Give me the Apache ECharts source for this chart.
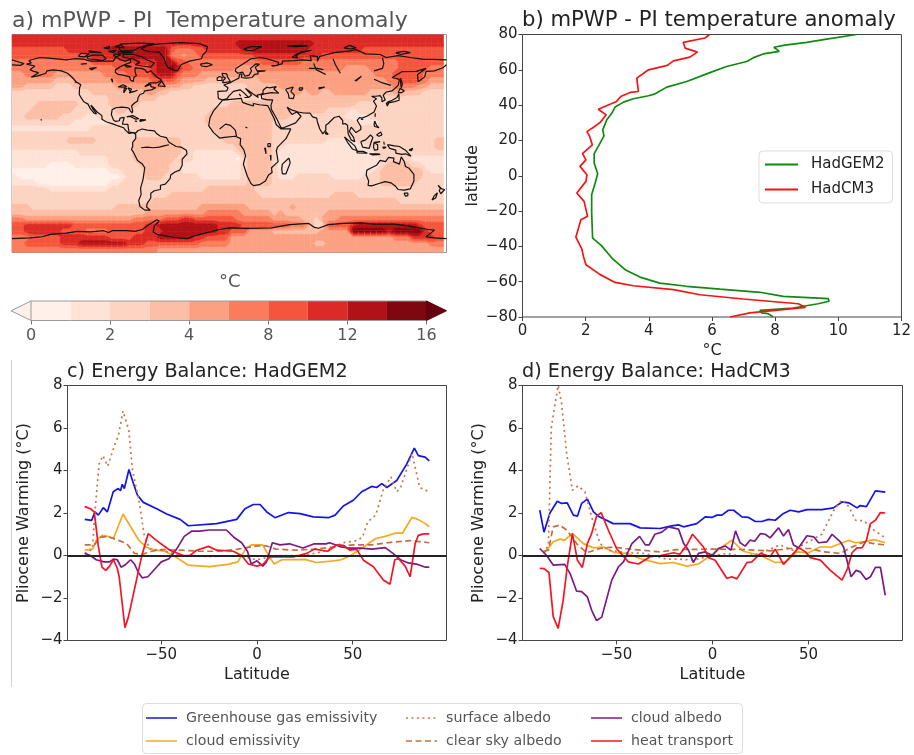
<!DOCTYPE html>
<html><head><meta charset="utf-8">
<style>html,body{margin:0;padding:0;background:#fff}#c{width:914px;height:755px}</style>
<script src="https://cdn.jsdelivr.net/npm/echarts@6/dist/echarts.min.js"></script>
</head><body><div id="c"></div>
<script>
// ---------- panel a: temperature anomaly level per 5x5 degree cell (north to south, west to east)
const mapLevels = [
"777777 777777 777777 777777 777777 777777 777777 777777 777777 777777 777777 777777",
"777777 777777 777777 777777 777777 777777 788888 888888 887777 777777 777777 777777",
"666666 666777 777788 888888 886555 667777 778888 888888 877777 777766 666666 666666",
"666666 666666 677777 888888 885545 566666 666677 777777 777666 666666 666666 666666",
"555555 555555 566666 667777 888665 555555 555556 666666 555555 555555 555566 666666",
"555555 555555 555556 666667 889866 555555 544445 555555 555555 544445 555566 666555",
"445555 544444 444555 566667 888655 544444 444444 444444 444444 444444 555666 665555",
"444444 433344 444445 555556 666544 443333 333334 444444 444444 444444 445566 665444",
"443333 322233 333334 444445 544433 222222 222333 334444 444444 444444 444555 544333",
"222222 222222 233333 333344 332222 222222 222333 333344 344334 444443 333443 332222",
"222222 222222 222233 333333 222222 222222 222222 333333 333333 333333 222222 222222",
"222233 333332 222233 333222 222222 222222 333333 333333 333333 333222 222222 222222",
"222333 333322 222223 322222 222222 222333 333333 333333 333322 221222 222222 222222",
"223333 332222 112222 222222 222222 223333 333333 333322 222222 211112 222222 222222",
"222222 222211 111122 222222 222222 223333 333333 322222 222222 222111 122222 222222",
"111111 111111 122222 222222 222222 222333 333333 322222 222222 222222 222222 222222",
"222222 222222 222222 222222 222222 222233 333333 322222 222222 222222 222222 222222",
"222222 222333 332222 223333 333322 222223 333333 322222 222211 111222 222222 222233",
"222222 222222 222222 223333 333322 222222 233333 322111 111111 111112 222222 222233",
"111111 111112 222222 223333 333322 111111 123333 321111 111111 111111 222222 222222",
"111111 111111 111122 223333 333222 111111 102333 321111 111111 111111 122222 111111",
"111111 000011 111122 222333 332211 111111 112333 321111 111111 111111 123333 221111",
"000000 000000 000011 222233 332211 111111 112333 321111 111111 111111 233333 332111",
"100000 000000 000000 122233 322222 211111 112333 321112 222221 111122 233333 332222",
"111100 000000 000011 222222 222222 222222 222333 322222 222222 222222 233333 322222",
"222222 111111 111122 222222 222222 223333 333322 222222 222222 222222 222222 222222",
"222222 222222 222222 222222 223333 333333 333332 222222 222223 333222 222222 222222",
"222222 222222 222222 222223 333333 333333 333333 333333 333333 333333 333322 222222",
"333222 222222 222223 333333 333333 344444 444333 333343 333333 333333 333333 333333",
"333333 333333 333333 333344 444444 445555 554444 434333 333344 444444 444444 444444",
"554444 444444 444444 445555 566677 666666 655555 544444 332444 555555 555555 555555",
"667777 777766 666666 666677 888888 888877 776666 666655 532266 667888 888888 876666",
"667777 776666 555566 666677 788888 888877 666444 433333 333444 449999 998999 997666",
"555666 667777 777766 667777 888888 776666 444444 444444 444444 444444 444555 777766",
"556666 667778 888888 877766 666666 655555 444444 444444 443344 444444 444444 444555",
"555555 555555 555555 555555 444444 444444 444444 444444 444444 444444 444444 444444"
];
// coastlines, lakes and rivers as [lon, lat] outlines
const coastlines = [
[[-168,65.5],[-164,66.5],[-166,68.5],[-157,71],[-150,70.5],[-141,69.6],[-135,69],[-128,70],[-120,69.5],[-115,68],[-108,68],[-100,68],[-96,68],[-94,71.5],[-90,69],[-86,68],[-82,69.5],[-81.5,67],[-87,65],[-90,63.5],[-94,61],[-94.5,58.8],[-92,57],[-88,56.5],[-82.5,55],[-82,52.5],[-79.5,51.3],[-79,54.5],[-77,56],[-78,59],[-78,62.5],[-73,62],[-70,61],[-68,58.5],[-65,60],[-62,57],[-60,55],[-56,52.5],[-60,50],[-66,50],[-70,47],[-65,49],[-65,47],[-61,46],[-64,44.5],[-66,44],[-67,45],[-70,43.5],[-71,41.5],[-74,40.5],[-75.5,38],[-76,35],[-79,33],[-81,31],[-80,27],[-80.5,25.2],[-82,27],[-83,29],[-85,29.7],[-89,30],[-90,29],[-94,29.5],[-97,28],[-97.7,24],[-96,19.5],[-94,18.2],[-91,18.8],[-90.5,21],[-87,21.5],[-88,18],[-88.5,16],[-84,15.8],[-83.5,12],[-83,9.5],[-80,9],[-77.5,8.7],[-75.5,10.7],[-72,12],[-68,11],[-62,10.5],[-60,8],[-57,6],[-52,4.8],[-50,1],[-50,-0.5],[-44,-2.5],[-40,-3],[-35.5,-5.5],[-35,-8.5],[-39,-13],[-39,-18],[-41,-22],[-45,-23.5],[-48.5,-26],[-49,-29],[-53,-33.5],[-57,-34.5],[-57,-38],[-62,-39],[-65,-41],[-65,-45],[-68,-49.5],[-68.5,-52.5],[-65.5,-55],[-70,-55],[-74,-52],[-75,-47],[-73,-42],[-73.5,-37],[-71.5,-30],[-70,-20],[-72,-17],[-76,-14],[-79.5,-7],[-81,-5],[-80,-2.5],[-80,1],[-77.5,4],[-77.5,7.5],[-79.5,9],[-80,7.5],[-83,8.3],[-86,11],[-87.5,13],[-92,14.5],[-96,16],[-102,18],[-105.5,20],[-105.5,23],[-109.5,26],[-112.5,29.5],[-114.7,31.7],[-113,28.5],[-110,24.5],[-109.5,23],[-112,25],[-115,28.5],[-117,32.5],[-120.5,34.5],[-122.5,37.5],[-124.3,40.5],[-124,46],[-123,48.5],[-127,51],[-130,54.5],[-134,58],[-139,60],[-146,60.8],[-151,60],[-152,58],[-158,56],[-164,54.7],[-158,58.5],[-162,59.5],[-165,61],[-161,64],[-168,65.5]],
[[-73,78.2],[-68,76],[-58,75.5],[-54,70],[-53,67],[-51,63],[-46,60.5],[-43,60],[-40,65],[-33,68],[-23,70],[-22,73],[-19,76],[-18,80],[-25,82.5],[-40,83.3],[-60,82],[-68,80.5],[-73,78.2]],
[[-80,73.7],[-72,71.5],[-68,69],[-62,66.5],[-65,63],[-72,64],[-78,65],[-74,67],[-80,70],[-88,71],[-88,73.5],[-80,73.7]],
[[-90,76.5],[-80,76.5],[-76,78.5],[-68,81.5],[-62,82.5],[-75,83],[-90,82],[-92,80],[-90,76.5]],
[[-117,70],[-105,68.7],[-102,70],[-105,73],[-113,73],[-118,71.5],[-117,70]],
[[-125,72],[-120,71.5],[-116,74],[-123,74.5],[-125,72]],
[[-92,76],[-80,75],[-80,74.5],[-92,74.5],[-92,76]],
[[-95,74],[-90,73],[-93,71.8],[-96,72.5],[-95,74]],
[[-116,75.5],[-106,75],[-106,76.5],[-116,76.5],[-116,75.5]],
[[-95,80],[-87,79],[-90,81.5],[-95,80]],
[[-100,76],[-96,75],[-94,77],[-100,76]],
[[-104,79],[-100,78],[-99,80],[-104,79]],
[[-87,65],[-81,63.5],[-85,63],[-87,65]],
[[-59,47.7],[-56,51.5],[-53,47],[-59,47.7]],
[[-128,50.8],[-125,50],[-123.5,48.5],[-125.5,48.8],[-128,50.8]],
[[-92,46.7],[-88,48.5],[-85,47],[-88,46.5],[-92,46.7]],
[[-87.5,41.8],[-85,45.5],[-87,45.5],[-87.5,41.8]],
[[-84,46],[-81,45],[-82,43],[-83.5,44],[-84,46]],
[[-83,41.7],[-79,42.8],[-79,43.6],[-76,44],[-78,43.3],[-83,42]],
[[-98,53.5],[-96.5,50.5],[-97,53],[-98,53.5]],
[[-123,65.5],[-118,66],[-119,65],[-123,65.5]],
[[-116,62],[-110,62.7],[-114,61],[-116,62]],
[[-85,22],[-80,23],[-75,20.5],[-77.5,20],[-82,22.3],[-85,22]],
[[-74,19.7],[-69,19.5],[-68.5,18.5],[-74,18.3],[-74,19.7]],
[[-78.3,18.4],[-76.3,18.2],[-77.5,17.8],[-78.3,18.4]],
[[-156,20],[-155,19.7],[-155.6,19],[-156,20]],
[[-24,65.5],[-18,66.5],[-14,65],[-19,63.4],[-23,64],[-24,65.5]],
[[12,78],[18,80],[27,80],[20,77],[15,76.8],[12,78]],
[[48,80.5],[60,81],[65,80.5],[55,80],[48,80.5]],
[[52,71],[56,74],[68,77],[60,75.7],[55,72],[57,70.7],[52,71]],
[[95,79],[100,81],[105,79],[100,78],[95,79]],
[[138,75],[145,76],[150,75],[142,73.5],[138,75]],
[[-5.5,50],[1,51.2],[1.5,52.8],[-1.5,55],[-2,57.5],[-3.5,58.5],[-6,58],[-5,55],[-3,54],[-5,52],[-5.5,50]],
[[-10,52],[-6,52.2],[-6,54.5],[-8,55.3],[-10,54],[-10,52]],
[[-9,37],[-9.5,43],[-2,43.5],[-1,46],[-4.5,48.3],[1.5,50.5],[4,52],[8,54],[8.5,57],[10.5,57.5],[10,54.5],[14,54],[19,54.5],[21,57],[24,57.5],[23.5,59.3],[30,60],[23,60],[21.5,63],[25,65.5],[22,65.7],[17.5,62],[18.5,60],[16.5,56.5],[13,55.5],[11,59],[7,58],[5,60],[5.5,62],[12,66],[18,70],[26,71],[31,70],[41,67],[40,64.5],[35,64.3],[37,63.8],[44,66],[44,68],[54,68.5],[60,69],[68,68.5],[67,72.5],[73,72],[73,68],[75,72],[81,73.5],[87,75],[100,76.5],[105,77.5],[113,74],[125,73.5],[130,71],[140,72.5],[150,71],[160,69.7],[170,69.5],[180,69]],
[[-180,69],[-175,67.5],[-170,66],[-173,64.5],[-180,65]],
[[180,65],[177,62.5],[170,60],[163,59.5],[162,55],[156.5,51],[156,57],[163,62],[155,59.5],[143,59.3],[135,54.5],[141,53],[140,48],[135,43.5],[130,42.5],[127.5,39.8],[129.3,36],[126.5,34.5],[126.5,37.5],[125,39.5],[121.5,39],[118,39],[122,37],[119.5,35],[122,31],[120,26],[114,22.5],[110,21],[108,21.5],[106,19],[109,14],[109,11.5],[105,9],[105,10],[101,13.5],[99.5,10],[103,5],[104,1.5],[101,3],[98.5,8],[98,15],[96,16.5],[94,16],[94,19],[91,22.5],[87,21.5],[82,16.5],[80,15],[80,11],[77.5,8],[75,12],[73,18],[72.5,21],[69,22],[67,25],[61.5,25.2],[57,26],[56,27],[51,28],[48,30],[50,26.5],[52,24],[56,26],[59.5,22.5],[55,17],[45,13],[43,13],[39,21],[35,28],[34.5,29.5],[34.5,31.5],[36,36],[32,36],[27,37],[26.5,40],[29,41],[35,42],[41,41.5],[37,45],[39,47],[33,46],[31,46.5],[28,44],[28,41.5],[26,40.5],[23,40],[24,38],[23,36.5],[19.5,41],[13.5,45.5],[12.5,44],[18.5,40],[16,38],[12,42],[9,44.3],[3.5,43],[0,39.5],[-2,36.8],[-5.5,36],[-9,37]],
[[-5.5,35.8],[10,37.3],[11,34],[15,32.5],[20,31],[20,33],[25,32],[32,31.2],[32.5,30],[35.5,24],[37,21],[39,15.5],[43,12],[51,12],[47,4],[40,-3],[39,-6],[40.5,-15],[35,-20],[35.5,-24],[32.5,-26],[30,-31],[25,-34],[20,-34.8],[18,-33],[15,-27],[11.7,-17],[13.5,-10],[12,-5],[9,-1],[9.5,4],[5,6],[-4,5],[-8,4.5],[-13,9],[-17,14.5],[-16,21],[-13,27],[-9.5,31],[-5.5,35.8]],
[[12.5,38],[15.5,38],[15,36.7],[12.5,38]],
[[8.3,41],[9.7,41],[9.5,39],[8.5,39],[8.3,41]],
[[47,45],[53,46.5],[51,43],[54,40],[53,37],[49.5,37.5],[49,41],[47,44],[47,45]],
[[58,46],[61,46],[60,44],[58,44],[58,46]],
[[104,51.7],[109.5,55.5],[110,55],[105,51.5]],
[[74,46],[79,46.5],[74,45]],
[[32,0],[34,0],[34,-2.5],[32,-2.5],[32,0]],
[[29.3,-3.5],[30.5,-8.5],[31,-8],[30,-3.5]],
[[34,-9.5],[34.5,-14],[35,-14],[34.5,-9.5]],
[[13.5,13.5],[14.5,13.5],[15,12.8],[13.5,13.5]],
[[-73,-3.5],[-68,-3],[-63,-3.5],[-58,-3],[-54,-2],[-50,-1]],
[[-8,12],[-3,16],[1,15],[5,11],[6,6]],
[[66,62],[73,62],[78,61]],
[[70,66],[72,61],[80,57]],
[[86,70],[88,65],[92,58]],
[[120,60],[127,62],[128,66],[127,71]],
[[120,53],[127,50],[134,48]],
[[49.5,-12],[50.5,-16],[47,-25],[44,-25],[43.5,-21],[44,-17],[49.5,-12]],
[[80,9.7],[82,7.5],[80.5,6],[79.8,8],[80,9.7]],
[[95.5,5.5],[104,-2],[106,-6],[102,-4.5],[98,1],[95.5,5.5]],
[[105.5,-6.5],[111,-6.5],[114.5,-8],[106,-7.7],[105.5,-6.5]],
[[109,1.5],[113,3],[117,7],[119,5],[117.5,1],[116,-4],[110.5,-3],[109,1.5]],
[[120,1],[125,1.5],[120.5,0.5],[123,-1],[121.5,-2],[123,-5],[120.5,-5.5],[119.5,-3],[120,1]],
[[116,-8.5],[119,-8.5],[123,-8.5],[125,-9],[124,-10],[119,-9.5],[116,-8.5]],
[[127,-3],[130,-3],[128,-4],[127,-3]],
[[128,1.5],[128.5,-1],[127.5,0],[128,1.5]],
[[131,-1],[137,-2],[141,-2.5],[146,-5.5],[150.5,-10.5],[146,-8.5],[143,-9],[138,-8],[138,-5.5],[133,-4],[131,-1]],
[[149,-5.5],[152,-4],[151,-6],[149,-5.5]],
[[120.5,18.5],[122,18.5],[122,15],[124,13],[120.5,14],[120,16],[120.5,18.5]],
[[122,7],[125.5,9.5],[126.5,7],[124,6],[122,7]],
[[121,25],[122,24.5],[120.8,22],[120,23],[121,25]],
[[109,20],[111,19.8],[109.5,18.3],[109,20]],
[[130.8,34],[135,35.7],[139,38],[140.5,41],[142,39.5],[140.8,35.7],[137,34.6],[132,33.5],[130.8,34]],
[[130,33.5],[132,33],[131,31],[130,32],[130,33.5]],
[[140,42],[141.5,45.5],[145,43.5],[143,42],[140,42]],
[[142,54],[143.5,49],[142.5,46],[142,50],[142,54]],
[[114,-22],[113.5,-26],[115.5,-31],[115,-34.5],[118,-35],[124,-33],[129,-31.5],[134,-32.5],[137.5,-35],[140,-38],[145,-38.5],[150,-37.5],[153,-31],[153,-25.5],[149,-20.5],[146,-19],[145,-15],[142.5,-11],[141,-17],[136,-15],[136.5,-12],[132,-11.5],[129.5,-15],[125,-14],[122,-18],[117,-20.5],[114,-22]],
[[144.8,-41],[148,-41],[148,-43],[146,-43.5],[144.8,-41]],
[[173,-34.5],[176,-37.5],[178.5,-38],[175.3,-41.5],[174,-39],[175,-37],[173,-34.5]],
[[172.5,-40.7],[174,-42],[171,-45],[168,-46.7],[166.5,-45.8],[170,-43],[172.5,-40.7]],
[[-180,-78.5],[-165,-78],[-155,-77],[-148,-75],[-135,-74],[-126,-72.5],[-115,-73],[-104,-72],[-100,-73.5],[-97,-72],[-85,-72],[-78,-72.5],[-72,-71],[-68,-68],[-60,-63],[-58,-64],[-62,-68],[-63,-73],[-60,-75],[-49,-77],[-35,-78.5],[-28,-76],[-16,-73],[-8,-71],[0,-69.7],[15,-70],[35,-69.7],[50,-67],[66,-66],[70,-69],[74,-70],[82,-67],[95,-66],[109,-65.5],[120,-66.5],[137,-66.5],[150,-68.5],[165,-71],[170,-71.5],[167,-74],[163,-77],[170,-78],[180,-78.5]]
];
const levelColors = ["#fff0e9","#fee3d6","#fdd4c2","#fcbea5","#fca082","#fb7c5c","#f5553c","#dc2a26","#b01217","#7f0710"];
const overColor = "#67000d";
const cbarTicks = [0,2,4,8,12,16];

// ---------- panel b: [temperature anomaly, latitude]
const zonalHadGEM2 = [[10.58,80],[9.63,77.4],[9.0,75.5],[8.31,74],[7.96,72.8],[8.13,70.4],[7.62,69],[7.36,67.2],[7.1,64.7],[6.46,61.9],[5.83,57.7],[5.2,53.4],[4.57,50.2],[4.2,46.4],[3.99,45.3],[3.51,43.6],[3.2,41.7],[2.93,38.9],[2.83,35.5],[2.67,31.7],[2.54,26],[2.58,22.6],[2.4,16.6],[2.27,12.5],[2.27,7.2],[2.38,1.1],[2.3,-4.2],[2.19,-10.8],[2.19,-21],[2.22,-35.3],[2.5,-39.6],[2.83,-46.6],[3.25,-53.2],[3.72,-57.4],[4.35,-60.8],[5.2,-62.6],[6.25,-64.2],[7.52,-66],[8.26,-68.3],[9.68,-69.6],[9.71,-71.1],[9.36,-72.5],[9.36,-73.6],[8.57,-74.9],[7.52,-76.2],[7.57,-77.7],[7.78,-78.1],[7.94,-80]];
const zonalHadCM3 = [[5.92,80],[5.78,78],[5.09,75.5],[5.15,72.3],[5.54,70],[5.3,67.2],[4.78,65.1],[4.59,62.5],[3.99,60],[3.62,55.3],[3.67,47.7],[3.41,47.2],[3.11,44.9],[2.98,42.1],[2.4,37.7],[2.65,34.5],[2.46,30.2],[2.25,27.5],[2.04,25],[2.12,22.6],[2.21,17.5],[1.9,12.5],[2.01,9],[1.82,5.3],[2.04,0.6],[2.01,-3.2],[1.72,-9.8],[1.95,-14.5],[2.06,-23],[1.85,-24.9],[1.69,-34.7],[1.88,-41.5],[1.93,-45.7],[2.01,-50.4],[2.46,-56],[2.93,-60.4],[3.51,-62.3],[4.78,-64.5],[5.62,-67.4],[6.99,-69.8],[8.73,-72.5],[8.96,-74.5],[7.2,-77.7],[6.57,-80]];

// ---------- panel c (HadGEM2): [latitude, warming]
const cGhg = [[-90,1.7],[-86.4,1.65],[-84.7,2.05],[-82.9,1.9],[-80.3,2.25],[-78.2,2.05],[-75.1,3.0],[-72.5,3.15],[-71.3,3.05],[-70.4,3.35],[-69.3,3.15],[-66.9,4.05],[-64.6,3.4],[-62.5,2.85],[-59.4,2.5],[-52.4,2.2],[-47.2,1.95],[-40.2,1.7],[-35.9,1.4],[-21.1,1.5],[-10.6,1.7],[-6.3,2.2],[-1.9,2.4],[1.6,2.4],[5.1,2.05],[9.4,1.78],[16.4,2.02],[22.5,1.97],[29.4,1.82],[37.3,1.78],[40.8,1.9],[45.1,2.33],[50.3,2.6],[54.7,3.0],[59.9,3.25],[62.5,3.2],[65.2,3.38],[67.8,3.2],[73,3.53],[78.2,4.3],[82.2,5.05],[84.3,4.7],[87.8,4.63],[90,4.45]];
const cCloudEm = [[-90,0.25],[-86,0.3],[-84,0.7],[-81,0.95],[-78,0.9],[-75,0.8],[-70,1.95],[-66,1.35],[-62,0.75],[-58,0.4],[-53,0.25],[-48,0.2],[-42,-0.1],[-36,-0.45],[-25,-0.52],[-15,-0.42],[-10,-0.3],[-6,0.3],[-3,0.5],[3,0.5],[6,0],[9,-0.4],[13,-0.2],[25,-0.18],[31,-0.33],[40,-0.25],[44,-0.2],[49,0],[55,0.35],[62,0.8],[67,0.9],[72,1.05],[76,1.05],[81,1.8],[84,1.7],[88,1.5],[90,1.35]];
const cSurface = [[-90,0.1],[-86,0.3],[-84.7,2.0],[-82.5,4.3],[-80.5,4.7],[-78,4.2],[-74,5.3],[-72.5,5.6],[-70,6.8],[-67,5.9],[-65,4.0],[-61.5,2.5],[-59,1.0],[-56,0.3],[-50,0.25],[-40,0],[-25,-0.05],[-10,0],[0,-0.2],[10,0],[25,0],[35,0.2],[45,0.6],[52,0.7],[55,0.85],[58,1.6],[62,1.9],[66,3.1],[70,3.7],[73,3.0],[75,3.2],[78,4.0],[81,4.8],[85,3.2],[90,3.0]];
const cClear = [[-90,0.5],[-85,0.5],[-82,0.85],[-78,0.9],[-72,0.7],[-68,0.55],[-64,0.1],[-60,0.05],[-55,0.2],[-50,0.28],[-40,0.25],[-30,0.2],[-20,0.2],[-10,0.3],[0,0.45],[5,0.45],[10,0.3],[20,0.25],[30,0.3],[40,0.4],[50,0.5],[60,0.5],[70,0.62],[80,0.7],[85,0.65],[90,0.6]];
const cCloudAlb = [[-90,0.1],[-87,0],[-84,-0.2],[-80,-0.3],[-77,-0.3],[-75,-0.17],[-73,-0.2],[-71,-0.55],[-69,-0.45],[-66,-0.2],[-64,-0.4],[-62,-0.8],[-60,-1.05],[-57,-1.0],[-53,-0.6],[-50,-0.3],[-46,-0.15],[-42,0.3],[-38,0.9],[-34,1.15],[-30,1.15],[-25,1.2],[-16,1.2],[-12,0.85],[-8,0.6],[-5,0.2],[-3,-0.4],[0,-0.25],[3,-0.5],[5,-0.3],[8,0.6],[12,0.5],[17,0.55],[24,0.35],[30,0.55],[36,0.55],[38,0.6],[44,0.4],[48,0.35],[54,0.35],[60,0.3],[67,0.37],[71,0.1],[75,-0.2],[79,-0.35],[84,-0.42],[88,-0.55],[90,-0.55]];
const cHeat = [[-90,2.3],[-87,2.2],[-85,2.05],[-84,2.1],[-83,0.5],[-81,-0.55],[-79,-0.7],[-77,-0.5],[-75,-0.2],[-73,-0.6],[-72,-1.0],[-69,-3.4],[-67.2,-2.9],[-63.8,-1.5],[-60.3,-0.05],[-56.8,1.03],[-52.4,0.7],[-45.5,0.25],[-38.5,0],[-35,0],[-31.5,0.25],[-25.4,0.43],[-21,0.25],[-12.4,0.2],[-8,0],[-4.5,-0.4],[0,-0.5],[3.3,-0.4],[6.8,-0.05],[12,-0.07],[19,-0.07],[26,0.1],[30,0.3],[37,0.2],[41.6,0.5],[45,0.48],[48.6,0.25],[52,0.3],[55.6,-0.22],[60.8,-0.53],[66,-1.15],[69.5,-1.35],[72,-0.2],[74,-0.15],[77.4,-0.5],[80,-1.0],[82.6,0.55],[84.3,0.95],[87,1.02],[90,1.02]];

// ---------- panel d (HadCM3): [latitude, warming]
const dGhg = [[-90,2.13],[-87.8,1.1],[-84.7,2.0],[-80.9,2.55],[-78.6,2.45],[-75.7,2.48],[-72.5,1.9],[-70.4,1.85],[-68.2,2.45],[-65.2,2.65],[-62,2.05],[-59.5,1.85],[-51.7,1.5],[-43,1.5],[-37.7,1.3],[-27.3,1.27],[-22,1.38],[-17.7,1.44],[-15.1,1.35],[-8.2,1.5],[-3.8,1.82],[-0.3,1.79],[2.3,1.9],[4.9,1.9],[8.3,2.13],[11,2.13],[15.3,1.82],[18.8,1.79],[22.3,1.6],[25.7,1.6],[29.2,1.7],[32.7,1.66],[37,1.98],[40.5,2.13],[44.9,2.05],[49.2,2.16],[57,2.16],[63,2.24],[67.5,2.52],[71,2.48],[75.3,2.24],[77,2.35],[80.2,2.3],[84.9,3.04],[90,2.98]];
const dCloudEm = [[-88,0.1],[-85,0.4],[-83,0.65],[-79.5,0.77],[-77,0.72],[-73,1.04],[-67.3,0.56],[-62,0.36],[-57,0.4],[-50.8,0.13],[-44.7,0.1],[-37.7,-0.14],[-27.3,-0.38],[-20.3,-0.33],[-13.4,-0.5],[-7.3,-0.4],[-2,-0.06],[4,0.33],[10,0.72],[16,0.2],[25,0],[32.7,-0.33],[38,-0.3],[44,0.17],[50,0.13],[56,0.4],[62,0.4],[71,0.72],[74.4,0.6],[79,0.64],[84,0.75],[90,0.6]];
const dSurface = [[-88,0.1],[-85.5,0.5],[-84,6.0],[-82,7.15],[-80.4,8.0],[-78.6,7.15],[-76,4.8],[-73,3.07],[-70,3.28],[-66.5,3.0],[-63,1.82],[-58.6,0.56],[-54.3,0.25],[-44.7,0.13],[-36,0.1],[-23.8,-0.17],[-17,-0.17],[-10,-0.22],[-3,-0.06],[7.5,0.1],[16,-0.06],[25,0.1],[35,0.5],[42,0.25],[51,0.7],[57,1.0],[63,2.1],[67.5,2.63],[71,2.3],[74.5,1.66],[79,1.63],[84,1.2],[90,0.83]];
const dClear = [[-88,0.2],[-85.5,0.25],[-83,1.35],[-79.5,1.43],[-76,1.2],[-70.8,0.56],[-65.6,0.13],[-58.6,0.33],[-51.6,0.4],[-41,0.28],[-27,0.17],[-18.6,0.28],[0.5,0.3],[16,0.28],[30,0.22],[40.5,0.33],[51,0.33],[58,0.17],[66.6,0.1],[72.7,0.4],[79,0.64],[84,0.56],[90,0.5]];
const dCloudAlb = [[-90,0.33],[-86.4,0],[-83,-0.45],[-77,-0.42],[-74.2,-0.85],[-70.8,-1.68],[-68.2,-1.7],[-65.2,-1.95],[-63,-2.57],[-60.4,-3.06],[-57.7,-2.9],[-52.5,-1.16],[-49,-0.53],[-46.4,-0.3],[-42,0.56],[-38,0.9],[-35,0.5],[-33,0.5],[-30,1.0],[-26.4,1.1],[-23,1.35],[-17.7,1.24],[-15,0.56],[-12.5,0.25],[-10,-0.33],[-7.3,0.1],[-3.8,0.17],[0,0],[3,0.33],[6.6,0.45],[9.6,0.25],[12,1.16],[14.4,0.6],[17,0.44],[19.6,0.72],[22,0.67],[25,1.03],[27.5,1.0],[30,0.83],[34.4,1.3],[37,0.92],[39.6,1.22],[42.2,0.49],[44.9,0.36],[49.2,0.93],[52.7,0.88],[55.3,0.6],[59.6,0.64],[62.3,1.0],[66.6,0.64],[68.3,0.4],[72.2,-1.0],[74.8,-0.7],[77,-0.77],[80,-1.13],[82.3,-1.0],[84.9,-0.56],[87.5,-0.56],[90,-1.87]];
const dHeat = [[-90,-0.6],[-87.8,-0.62],[-85.2,-0.8],[-83,-2.88],[-80.4,-3.43],[-77.8,-2.1],[-75.7,-0.53],[-73,1.03],[-70.4,-0.22],[-67.8,-0.56],[-65.2,0.56],[-63,1.03],[-60.4,1.85],[-58,2.02],[-54.3,1.2],[-50,0.33],[-43.8,-0.3],[-38.6,-0.4],[-32.5,-0.06],[-27,0],[-20.3,0.13],[-17,0.06],[-13.4,0.49],[-10.4,1.0],[-4.7,0.4],[-2,-0.1],[1.4,-0.22],[7.5,-1.08],[10,-1.0],[12.7,-1.1],[18,-0.33],[20.5,-0.3],[25,0.1],[28.4,0],[30,-0.06],[32.7,0.3],[37,-0.42],[42.2,0.1],[45,0.37],[48.4,0.17],[51,-0.1],[56.2,-0.22],[61.4,-0.7],[67.5,-1.16],[70.4,-0.6],[72.7,0.13],[75.3,0.36],[78,0.37],[80.2,0.72],[82.3,1.5],[84.9,1.66],[87.5,2.02],[90,2.0]];

const energyNames = ["Greenhouse gas emissivity","cloud emissivity","surface albedo","clear sky albedo","cloud albedo","heat transport"];
const latTicks = [-50,0,50];

const font = "DejaVu Sans";
const tickCol = "#222", frameCol = "#444";
const minus = v => String(v).replace("-", "\u2212");

function panelGrid(left, top, width, height){ return {left, top, width, height, show:true, borderColor:frameCol, borderWidth:1, backgroundColor:"transparent", containLabel:false}; }
function valAxis(gridIndex, min, max, interval, name, gap, margin){
  return {type:"value", gridIndex, min, max, interval, name, nameLocation:"middle", nameGap:gap,
    nameTextStyle:{fontFamily:font, fontSize:16, color:tickCol},
    axisLine:{show:false,onZero:false}, splitLine:{show:false},
    axisTick:{show:true, length:4, lineStyle:{color:frameCol}},
    axisLabel:{fontFamily:font, fontSize:15, color:tickCol, margin:margin||5, formatter:minus, hideOverlap:false, showMinLabel:true, showMaxLabel:true}};
}
function latAxis(gridIndex){
  const a = valAxis(gridIndex,-99,99,undefined,"Latitude",26,7);
  delete a.interval;
  a.axisTick.customValues = latTicks;
  a.axisLabel.customValues = latTicks;
  return a;
}

// panel a: filled contours between the centres of the 5-degree cells
const levelGrid = mapLevels.map(r=>r.replace(/ /g,"").split("").map(Number));
const nRow = levelGrid.length, nCol = levelGrid[0].length;
const levelAt = (r,c)=> levelGrid[Math.max(0,Math.min(nRow-1,r))][Math.max(0,Math.min(nCol-1,c))];
const cellData = [];
for(let r=-1;r<nRow;r++) for(let c=-1;c<nCol-1;c++) cellData.push([-177.5+5*c, 87.5-5*r, r, c]);
function clipAbove(pts, vals, th){
  const out=[];
  for(let i=0;i<pts.length;i++){
    const j=(i+1)%pts.length, a=vals[i], b=vals[j];
    if(a>=th) out.push(pts[i]);
    if((a>=th)!==(b>=th)){ const t=(th-a)/(b-a); out.push([pts[i][0]+t*(pts[j][0]-pts[i][0]), pts[i][1]+t*(pts[j][1]-pts[i][1])]); }
  }
  return out;
}
const cellSeries = {
  type:"custom", xAxisIndex:0, yAxisIndex:0, silent:true, clip:true,
  encode:{x:0,y:1},
  data:cellData,
  renderItem:(p,api)=>{
    const lon=api.value(0), lat=api.value(1), r=api.value(2), c=api.value(3);
    const pts=[api.coord([lon,lat]),api.coord([lon+5,lat]),api.coord([lon+5,lat-5]),api.coord([lon,lat-5])];
    const vals=[levelAt(r,c),levelAt(r,c+1),levelAt(r+1,c+1),levelAt(r+1,c)];
    const lo=Math.min(...vals), hi=Math.max(...vals);
    const kids=[{type:"polygon",shape:{points:pts},style:{fill:levelColors[lo],stroke:levelColors[lo],lineWidth:0.6}}];
    for(let L=lo+1;L<=hi;L++){
      const poly=clipAbove(pts,vals,L-0.5);
      if(poly.length>2) kids.push({type:"polygon",shape:{points:poly},style:{fill:levelColors[L],stroke:levelColors[L],lineWidth:0.4}});
    }
    return {type:"group",children:kids};
  }
};
const coastData = [];
coastlines.forEach(l=>{ l.forEach(p=>coastData.push(p)); coastData.push(["-","-"]); });

// colour bar
const cbarData = levelColors.map((c,i)=>[i,i]);
const cbarSeries = {
  type:"custom", xAxisIndex:1, yAxisIndex:1, silent:true, clip:false, encode:{x:0,y:1},
  data:cbarData,
  renderItem:(p,api)=>{
    const i=api.value(0);
    const a=api.coord([i,1]), b=api.coord([i+1,0]);
    const stroke="#999";
    const kids=[{type:"rect", shape:{x:a[0],y:a[1],width:b[0]-a[0],height:b[1]-a[1]}, style:{fill:levelColors[i]}},
      {type:"line",shape:{x1:a[0],y1:a[1],x2:b[0],y2:a[1]},style:{stroke,lineWidth:1}},
      {type:"line",shape:{x1:a[0],y1:b[1],x2:b[0],y2:b[1]},style:{stroke,lineWidth:1}}];
    if(i===0){ const t=api.coord([-0.506,0.5]), c0=api.coord([0,1]), c1=api.coord([0,0]);
      kids.push({type:"polygon",shape:{points:[t,c0,c1]},style:{fill:levelColors[0],stroke,lineWidth:1}}); }
    if(i===levelColors.length-1){ const t=api.coord([10.506,0.5]), c0=api.coord([10,1]), c1=api.coord([10,0]);
      kids.push({type:"polygon",shape:{points:[t,c0,c1]},style:{fill:overColor,stroke:overColor,lineWidth:1}}); }
    return {type:"group",children:kids};
  }
};
const baseLine = (name,data,color,x,y,type) => ({type:"line",name,data,xAxisIndex:x,yAxisIndex:y,showSymbol:false,symbol:"none",smooth:false,silent:true,
  lineStyle:{color,width:1.7,type:type||"solid"},itemStyle:{color},z:3,animation:false});
const colors = ["#1414e6","#f6a821","#c8764a","#c0703f","#7b1a84","#f51423"];
const types  = ["solid","solid",[2,3.5],[6,3.5],"solid","solid"];
const cAll=[cGhg,cCloudEm,cSurface,cClear,cCloudAlb,cHeat], dAll=[dGhg,dCloudEm,dSurface,dClear,dCloudAlb,dHeat];
const zero = {silent:true,symbol:"none",label:{show:false},animation:false,lineStyle:{color:"#222",width:2,type:"solid"},data:[{yAxis:0}]};
const series=[cellSeries,
  {type:"line",data:coastData,xAxisIndex:0,yAxisIndex:0,symbol:"none",showSymbol:false,connectNulls:false,silent:true,clip:true,lineStyle:{color:"#111",width:1.2},z:3},
  cbarSeries,
  baseLine("HadGEM2",zonalHadGEM2,"#0f8a0f",2,2),
  baseLine("HadCM3",zonalHadCM3,"#f41414",2,2)];
[cAll,dAll].forEach((set,k)=>{ set.forEach((d,i)=>{ const s=baseLine(energyNames[i],d,colors[i],3+k,3+k,types[i]); if(i===5) s.markLine=zero; series.push(s); }); });

function bottomLegend(left,names){ return {left,top:711,orient:"vertical",itemGap:9,itemWidth:31,itemHeight:14,padding:0,data:names,selectedMode:false,
  itemStyle:{opacity:0,borderWidth:0},lineStyle:{opacity:0.75},textStyle:{fontFamily:font,fontSize:14.2,color:"#555",padding:[0,0,0,4]}}; }

const titleOf=(text,left,top,color,size)=>({text,left,top,padding:0,textStyle:{fontFamily:font,fontWeight:"normal",fontSize:size,color}});
const option={
  animation:false,
  backgroundColor:"#fff",
  title:[
    titleOf("a) mPWP - PI  Temperature anomaly",12,10,"#555",22),
    titleOf("\u00b0C",219,273,"#555",18),
    titleOf("b) mPWP - PI temperature anomaly",522,10,tickCol,21.2),
    titleOf("c) Energy Balance: HadGEM2",67,363,tickCol,19.2),
    titleOf("d) Energy Balance: HadCM3",522,363,tickCol,19.2)
  ],
  grid:[
    {left:12,top:34.5,width:434.5,height:218,show:true,borderColor:"#999",borderWidth:1,backgroundColor:"#fff"},
    {left:31,top:301,width:395.5,height:19.5},
    panelGrid(522.5,34.5,379.5,282.5),
    panelGrid(67.5,385.5,379,255),
    panelGrid(522.5,385.5,380,255)
  ],
  xAxis:[
    {type:"value",gridIndex:0,min:-180,max:180,show:false,axisLine:{onZero:false}},
    {type:"value",gridIndex:1,min:0,max:10,interval:2,axisLine:{show:false,onZero:false},splitLine:{show:false},
      axisTick:{show:true,length:4,lineStyle:{color:"#777"}},
      axisLabel:{fontFamily:font,fontSize:16,color:"#555",margin:7,formatter:v=>String(cbarTicks[v/2])}},
    valAxis(2,0,12,2,"\u00b0C",26,7),
    latAxis(3),
    latAxis(4)
  ],
  yAxis:[
    {type:"value",gridIndex:0,min:-90,max:90,show:false,axisLine:{onZero:false}},
    {type:"value",gridIndex:1,min:0,max:1,show:false,axisLine:{onZero:false}},
    valAxis(2,-80,80,20,"latitude",42),
    valAxis(3,-4,8,2,"Pliocene Warming (\u00b0C)",36),
    valAxis(4,-4,8,2,"Pliocene Warming (\u00b0C)",36)
  ],
  legend:[
    {left:759,top:151,width:135,orient:"vertical",itemGap:10,itemWidth:33,itemHeight:14,padding:[6,8,6,5],data:["HadGEM2","HadCM3"],selectedMode:false,
      itemStyle:{opacity:0,borderWidth:0},borderColor:"#ddd",borderWidth:1,borderRadius:4,backgroundColor:"#fff",textStyle:{fontFamily:font,fontSize:15,color:tickCol,padding:[0,0,0,8]}},
    bottomLegend(145,energyNames.slice(0,2)),
    bottomLegend(405,energyNames.slice(2,4)),
    bottomLegend(590,energyNames.slice(4,6))
  ],
  graphic:[
    {type:"rect",shape:{x:142.5,y:703.5,width:600,height:50,r:4},style:{fill:"none",stroke:"#ddd",lineWidth:1},silent:true},
    {type:"line",shape:{x1:11.5,y1:360,x2:11.5,y2:687},style:{stroke:"#d0d0d0",lineWidth:1},silent:true}
  ],
  series
};
echarts.init(document.getElementById("c"),null,{renderer:"canvas"}).setOption(option);
</script></body></html>
